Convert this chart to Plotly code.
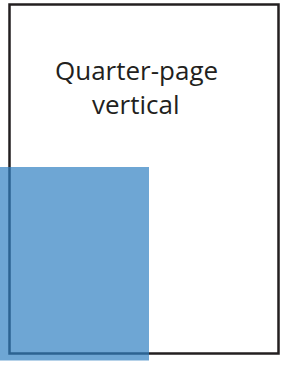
import plotly.graph_objects as go

# Content of the figure
label_lines = ["Quarter-page", "vertical"]
page_box = [9.5, 4.5, 278.5, 353.5]      # x0, y0, x1, y1 of the page outline (px)
ad_box = [0, 167, 149, 360.5]            # x0, y0, x1, y1 of the quarter-page block (px)
label_y = [70, 104]                      # vertical centre of each text line (px)
label_x = 136

W, H = 283, 366

fig = go.Figure()

fig.add_shape(type="rect", xref="x", yref="y",
              x0=page_box[0], y0=page_box[1], x1=page_box[2], y1=page_box[3],
              line=dict(color="#231f20", width=2.5), fillcolor="rgba(0,0,0,0)",
              layer="below")
fig.add_shape(type="rect", xref="x", yref="y",
              x0=ad_box[0], y0=ad_box[1], x1=ad_box[2], y1=ad_box[3],
              line=dict(width=0), fillcolor="rgba(49,128,194,0.7)", layer="above")

for txt, yy in zip(label_lines, label_y):
    fig.add_annotation(x=label_x, y=yy, xref="x", yref="y", text=txt,
                       showarrow=False, xanchor="center", yanchor="middle",
                       font=dict(family="Open Sans", size=26, color="#231f20"))

fig.update_layout(width=W, height=H, autosize=False,
                  margin=dict(l=0, r=0, t=0, b=0, pad=0),
                  paper_bgcolor="white", plot_bgcolor="white",
                  showlegend=False)
fig.update_xaxes(range=[0, W], visible=False, fixedrange=True)
fig.update_yaxes(range=[H, 0], visible=False, fixedrange=True)

fig.write_html("out.html", config={"displayModeBar": False},
               post_script="document.body.style.margin='0';document.body.style.overflow='hidden';")
